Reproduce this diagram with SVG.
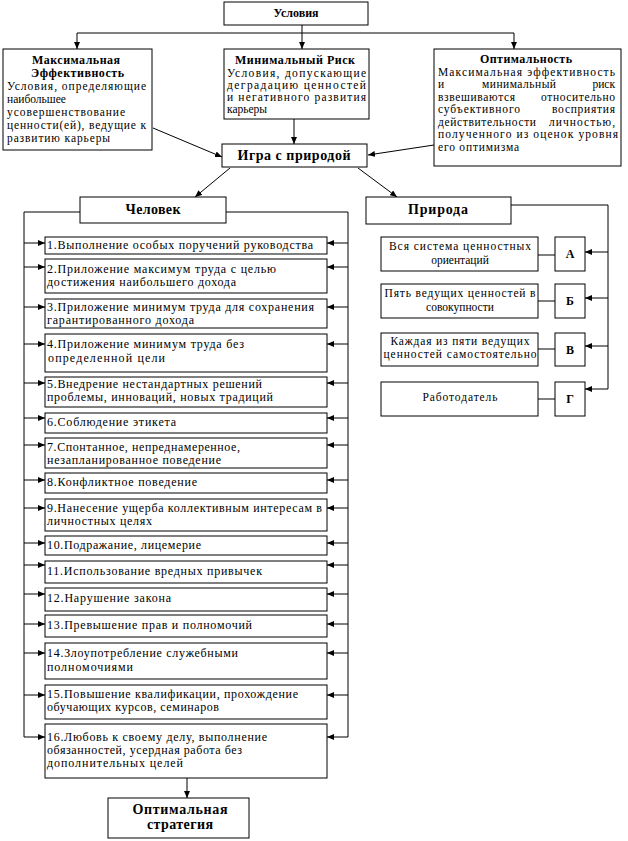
<svg xmlns="http://www.w3.org/2000/svg" width="628" height="841" viewBox="0 0 628 841">
<style>
.b{fill:#fff;stroke:#000;stroke-width:1}
text{font-family:'Liberation Serif','DejaVu Serif',serif;fill:#000}
.t{font-size:12px}
.s{font-size:11.5px}
.h{font-weight:bold;font-size:12px}
.H{font-weight:bold;font-size:14px}
.c{stroke:#000;stroke-width:1;fill:none}
</style>
<defs>
<marker id="a" markerUnits="userSpaceOnUse" markerWidth="7" markerHeight="6" refX="7" refY="3" orient="auto"><path d="M0,0L7,3L0,6z" fill="#000"/></marker>
</defs>
<rect width="628" height="841" fill="#fff"/>
<g id="connectors" class="c">
<path d="M302,25V49" marker-end="url(#a)"/>
<path d="M77,33H514"/>
<path d="M77,33V49" marker-end="url(#a)"/>
<path d="M514,33V49" marker-end="url(#a)"/>
<path d="M294,119V144" marker-end="url(#a)"/>
<path d="M153,128L222,157" marker-end="url(#a)"/>
<path d="M434,145L368,155" marker-end="url(#a)"/>
<path d="M230,168L195,197" marker-end="url(#a)"/>
<path d="M358,168L397,197" marker-end="url(#a)"/>
<path d="M80,212H24V737"/>
<path d="M226,212H348V737"/>
<path d="M24,243H45" marker-end="url(#a)"/><path d="M348,243H327" marker-end="url(#a)"/>
<path d="M24,267H45" marker-end="url(#a)"/><path d="M348,267H327" marker-end="url(#a)"/>
<path d="M24,307H45" marker-end="url(#a)"/><path d="M348,307H327" marker-end="url(#a)"/>
<path d="M24,344H45" marker-end="url(#a)"/><path d="M348,344H327" marker-end="url(#a)"/>
<path d="M24,383H45" marker-end="url(#a)"/><path d="M348,383H327" marker-end="url(#a)"/>
<path d="M24,418H45" marker-end="url(#a)"/><path d="M348,418H327" marker-end="url(#a)"/>
<path d="M24,445H45" marker-end="url(#a)"/><path d="M348,445H327" marker-end="url(#a)"/>
<path d="M24,480H45" marker-end="url(#a)"/><path d="M348,480H327" marker-end="url(#a)"/>
<path d="M24,508H45" marker-end="url(#a)"/><path d="M348,508H327" marker-end="url(#a)"/>
<path d="M24,543H45" marker-end="url(#a)"/><path d="M348,543H327" marker-end="url(#a)"/>
<path d="M24,565H45" marker-end="url(#a)"/><path d="M348,565H327" marker-end="url(#a)"/>
<path d="M24,594H45" marker-end="url(#a)"/><path d="M348,594H327" marker-end="url(#a)"/>
<path d="M24,624H45" marker-end="url(#a)"/><path d="M348,624H327" marker-end="url(#a)"/>
<path d="M24,653H45" marker-end="url(#a)"/><path d="M348,653H327" marker-end="url(#a)"/>
<path d="M24,695H45" marker-end="url(#a)"/><path d="M348,695H327" marker-end="url(#a)"/>
<path d="M24,737H45" marker-end="url(#a)"/><path d="M348,737H327" marker-end="url(#a)"/>
<path d="M187,778V798" marker-end="url(#a)"/>
<path d="M511,205H608V389"/>
<path d="M608,252H585" marker-end="url(#a)"/>
<path d="M608,298H585" marker-end="url(#a)"/>
<path d="M608,346H585" marker-end="url(#a)"/>
<path d="M608,389H585" marker-end="url(#a)"/>
<path d="M538,255H555"/>
<path d="M538,301H555"/>
<path d="M538,349H555"/>
<path d="M538,399H555"/>
</g>
<g id="usloviya"><rect class="b" x="224" y="2" width="144" height="23"/><text class="h" x="296" y="17" text-anchor="middle">Условия</text></g>
<g id="maxeff"><rect class="b" x="3" y="49" width="149" height="101"/>
<text class="h" x="76" y="64" text-anchor="middle" textLength="88">Максимальная</text>
<text class="h" x="77.5" y="77" text-anchor="middle" textLength="93">Эффективность</text>
<text class="s" x="7" y="90" textLength="139">Условия, определяющие</text>
<text class="s" x="7" y="103">наибольшее</text>
<text class="s" x="7" y="116" textLength="118">усовершенствование</text>
<text class="s" x="7" y="129" textLength="139">ценности(ей), ведущие к</text>
<text class="s" x="7" y="142" textLength="103">развитию карьеры</text>
</g>
<g id="minrisk"><rect class="b" x="224" y="49" width="145" height="70"/>
<text class="h" x="295" y="64" text-anchor="middle" textLength="120">Минимальный Риск</text>
<text class="s" x="227" y="77" textLength="139">Условия, допускающие</text>
<text class="s" x="227" y="89" textLength="139">деградацию ценностей</text>
<text class="s" x="227" y="101" textLength="139">и негативного развития</text>
<text class="s" x="227" y="113">карьеры</text>
</g>
<g id="optim"><rect class="b" x="434" y="49" width="187" height="117"/>
<text class="h" x="526" y="63" text-anchor="middle" textLength="92">Оптимальность</text>
<text class="s" x="438" y="76" textLength="177">Максимальная эффективность</text>
<text class="s" x="438" y="88">и</text>
<text class="s" x="519" y="88" text-anchor="middle" textLength="74">минимальный</text>
<text class="s" x="615" y="88" text-anchor="end">риск</text>
<text class="s" x="438" y="101" textLength="77">взвешиваются</text>
<text class="s" x="615" y="101" text-anchor="end" textLength="74">относительно</text>
<text class="s" x="438" y="113" textLength="82">субъективного</text>
<text class="s" x="615" y="113" text-anchor="end" textLength="63">восприятия</text>
<text class="s" x="438" y="126" textLength="98">действительности</text>
<text class="s" x="615" y="126" text-anchor="end" textLength="66">личностью,</text>
<text class="s" x="438" y="138" textLength="180">полученного из оценок уровня</text>
<text class="s" x="438" y="151" textLength="81">его оптимизма</text>
</g>
<g id="igra"><rect class="b" x="222" y="144" width="145" height="23"/><text class="H" x="294" y="160" text-anchor="middle" textLength="113">Игра с природой</text></g>
<g id="chelovek"><rect class="b" x="80" y="197" width="146" height="26"/><text class="H" x="153" y="214" text-anchor="middle" textLength="55">Человек</text></g>
<g id="priroda"><rect class="b" x="366" y="197" width="145" height="27"/><text class="H" x="438" y="214" text-anchor="middle" textLength="60">Природа</text></g>
<g id="i1"><rect class="b" x="45" y="237" width="282" height="17"/><text class="t" x="47" y="249" textLength="266">1.Выполнение особых поручений руководства</text></g>
<g id="i2"><rect class="b" x="45" y="259" width="282" height="34"/><text class="t" x="47" y="273" textLength="229">2.Приложение максимум  труда с целью</text><text class="t" x="47" y="286" textLength="189">достижения наибольшего дохода</text></g>
<g id="i3"><rect class="b" x="45" y="299" width="282" height="29"/><text class="t" x="47" y="311" textLength="267">3.Приложение минимум труда для сохранения</text><text class="t" x="47" y="324" textLength="147">гарантированного дохода</text></g>
<g id="i4"><rect class="b" x="45" y="334" width="282" height="38"/><text class="t" x="47" y="348" textLength="197">4.Приложение минимум труда без</text><text class="t" x="48" y="362" textLength="117">определенной цели</text></g>
<g id="i5"><rect class="b" x="45" y="377" width="282" height="30"/><text class="t" x="47" y="388" textLength="215">5.Внедрение нестандартных решений</text><text class="t" x="47" y="401" textLength="226">проблемы, инноваций, новых традиций</text></g>
<g id="i6"><rect class="b" x="45" y="413" width="282" height="20"/><text class="t" x="47" y="426" textLength="129">6.Соблюдение этикета</text></g>
<g id="i7"><rect class="b" x="45" y="438" width="282" height="30"/><text class="t" x="47" y="451" textLength="193">7.Спонтанное, непреднамеренное,</text><text class="t" x="47" y="464" textLength="174">незапланированное поведение</text></g>
<g id="i8"><rect class="b" x="45" y="473" width="282" height="20"/><text class="t" x="47" y="486" textLength="150">8.Конфликтное поведение</text></g>
<g id="i9"><rect class="b" x="45" y="499" width="282" height="32"/><text class="t" x="47" y="512" textLength="275">9.Нанесение ущерба коллективным интересам в</text><text class="t" x="47" y="525" textLength="105">личностных целях</text></g>
<g id="i10"><rect class="b" x="45" y="536" width="282" height="19"/><text class="t" x="47" y="549" textLength="154">10.Подражание, лицемерие</text></g>
<g id="i11"><rect class="b" x="45" y="561" width="282" height="22"/><text class="t" x="47" y="575" textLength="215">11.Использование вредных привычек</text></g>
<g id="i12"><rect class="b" x="45" y="588" width="282" height="23"/><text class="t" x="47" y="602" textLength="124">12.Нарушение закона</text></g>
<g id="i13"><rect class="b" x="45" y="615" width="282" height="22"/><text class="t" x="47" y="629" textLength="205">13.Превышение прав и полномочий</text></g>
<g id="i14"><rect class="b" x="45" y="643" width="282" height="36"/><text class="t" x="47" y="657" textLength="191">14.Злоупотребление служебными</text><text class="t" x="47" y="671" textLength="86">полномочиями</text></g>
<g id="i15"><rect class="b" x="45" y="685" width="282" height="34"/><text class="t" x="47" y="698" textLength="251">15.Повышение квалификации, прохождение</text><text class="t" x="47" y="711" textLength="172">обучающих курсов, семинаров</text></g>
<g id="i16"><rect class="b" x="45" y="724" width="282" height="54"/><text class="t" x="47" y="741" textLength="220">16.Любовь к своему делу, выполнение</text><text class="t" x="47" y="754" textLength="195">обязанностей, усердная работа без</text><text class="t" x="47" y="767" textLength="136">дополнительных целей</text></g>
<g id="optstrat"><rect class="b" x="108" y="798" width="141" height="40"/><text class="H" x="180" y="814" text-anchor="middle" textLength="95">Оптимальная</text><text class="H" x="180" y="829" text-anchor="middle" textLength="66">стратегия</text></g>
<g id="n1"><rect class="b" x="381" y="237" width="157" height="34"/><text class="s" x="460" y="250" text-anchor="middle" textLength="142">Вся система ценностных</text><text class="s" x="460" y="264" text-anchor="middle">ориентаций</text></g>
<g id="nA"><rect class="b" x="555" y="237" width="30" height="34"/><text class="h" x="570" y="258" text-anchor="middle">А</text></g>
<g id="n2"><rect class="b" x="381" y="284" width="157" height="34"/><text class="s" x="460" y="297" text-anchor="middle" textLength="151">Пять ведущих ценностей в</text><text class="s" x="460" y="311" text-anchor="middle">совокупности</text></g>
<g id="nB"><rect class="b" x="555" y="284" width="30" height="34"/><text class="h" x="570" y="305" text-anchor="middle">Б</text></g>
<g id="n3"><rect class="b" x="381" y="333" width="157" height="33"/><text class="s" x="460" y="345" text-anchor="middle" textLength="139">Каждая из пяти ведущих</text><text class="s" x="460" y="358" text-anchor="middle" textLength="153">ценностей самостоятельно</text></g>
<g id="nV"><rect class="b" x="555" y="333" width="30" height="33"/><text class="h" x="570" y="354" text-anchor="middle">В</text></g>
<g id="n4"><rect class="b" x="381" y="382" width="157" height="34"/><text class="s" x="460" y="401" text-anchor="middle" textLength="75">Работодатель</text></g>
<g id="nG"><rect class="b" x="555" y="382" width="30" height="34"/><text class="h" x="570" y="403" text-anchor="middle">Г</text></g>
</svg>
